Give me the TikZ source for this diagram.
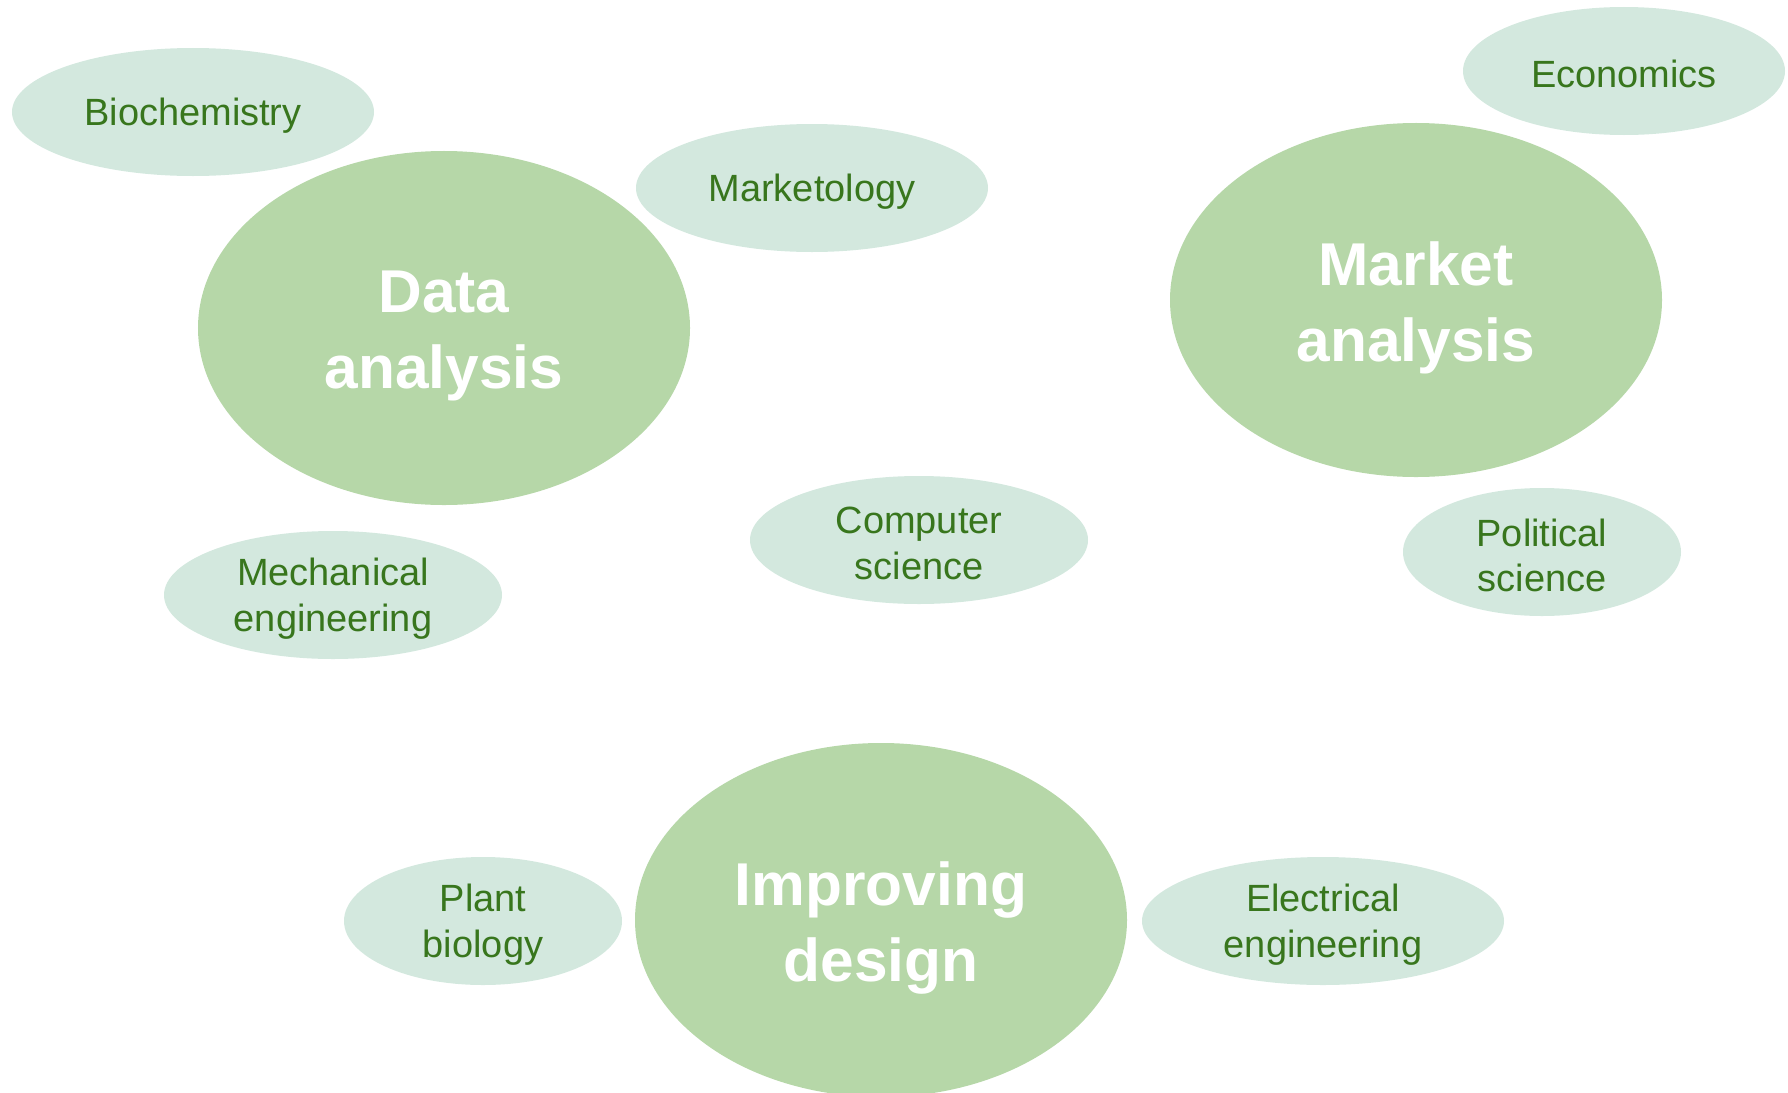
\documentclass[tikz,border=0pt]{standalone}
\usepackage{fontspec}
\setmainfont{Liberation Sans}
\usetikzlibrary{shapes.geometric}

\definecolor{bigfill}{HTML}{B6D7A8}
\definecolor{smallfill}{HTML}{D3E8DE}
\definecolor{labelgreen}{HTML}{38761D}

\begin{document}
\begin{tikzpicture}[x=0.25mm, y=-0.25mm,
	field/.style 2 args={ellipse, fill=smallfill, inner sep=0pt, minimum width=#1*0.5mm, minimum height=#2*0.5mm},
	fieldtext/.style={yshift=-2.4pt, text=labelgreen, align=center, font=\fontsize{27}{32.5}\selectfont},
	topic/.style={ellipse, fill=bigfill, inner sep=0pt, minimum width=123mm, minimum height=88.5mm},
	topictext/.style={yshift=-5.5pt, text=white, align=center, font=\fontsize{43}{54}\selectfont\bfseries}]
\useasboundingbox (0,0) rectangle (1788,1093);
\clip (0,0) rectangle (1788,1093);
% the three topics
\node[topic] (data) at (444,328) {};      \node[topictext] (datatext) at (data) {Data\\analysis};
\node[topic] (market) at (1416,300) {};   \node[topictext] (markettext) at (market) {Market\\analysis};
\node[topic] (design) at (881,920) {};    \node[topictext] (designtext) at (design) {Improving\\design};
% fields around them
\node[field={181}{64}] (bio) at (193,112) {};    \node[fieldtext] (biotext) at (bio) {Biochemistry};
\node[field={176}{64}] (mkt) at (812,188) {};    \node[fieldtext] (mkttext) at (mkt) {Marketology};
\node[field={161}{64}] (eco) at (1624,71) {};    \node[fieldtext] (ecotext) at (eco) {Economics};
\node[field={169}{64}] (cs) at (919,540) {};     \node[fieldtext] (cstext) at (cs) {Computer\\science};
\node[field={169}{64}] (mech) at (333,595) {};   \node[fieldtext] (mechtext) at (mech) {Mechanical\\engineering};
\node[field={139}{64}] (pol) at (1542,552) {};   \node[fieldtext] (poltext) at (pol) {Political\\science};
\node[field={139}{64}] (plant) at (483,921) {};  \node[fieldtext] (planttext) at (plant) {Plant\\biology};
\node[field={181}{64}] (elec) at (1323,921) {};  \node[fieldtext] (electext) at (elec) {Electrical\\engineering};
\end{tikzpicture}
\end{document}
